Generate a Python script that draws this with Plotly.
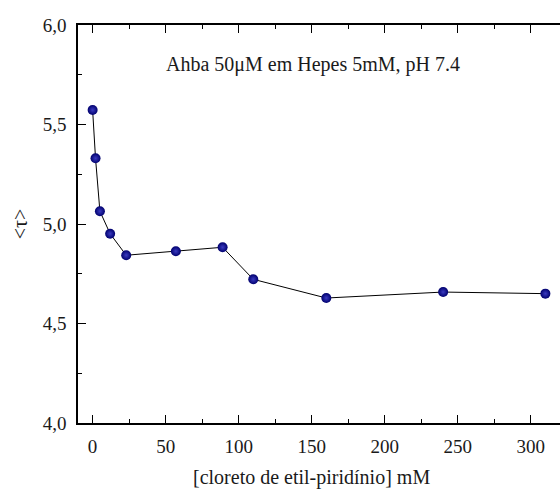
import plotly.graph_objects as go

# Ethyl-pyridinium chloride concentration (mM) and mean lifetime <tau>
conc_mM = [0, 2, 5, 12, 23, 57, 89, 110, 160, 240, 310]
tau_mean = [5.573, 5.33, 5.064, 4.951, 4.843, 4.863, 4.883, 4.722, 4.628, 4.658, 4.650]

x_ticks = [0, 50, 100, 150, 200, 250, 300]
y_ticks = [4.0, 4.5, 5.0, 5.5, 6.0]

serif = "Liberation Serif, serif"
ink = "#1a1a1a"

fig = go.Figure()
fig.add_trace(go.Scatter(
    x=conc_mM, y=tau_mean,
    mode="lines+markers",
    line=dict(color="black", width=1),
    marker=dict(size=10, color="#00006e",
                gradient=dict(type="radial", color="#3a3ac0"),
                line=dict(width=0)),
    showlegend=False,
))

axis_common = dict(
    showline=True, linecolor="black", linewidth=1.5,
    ticks="inside", ticklen=8, tickwidth=1.3, tickcolor="black",
    showgrid=False, zeroline=False,
    tickfont=dict(family=serif, size=19, color=ink),
)

fig.update_xaxes(
    **axis_common,
    range=[-10, 320], tickvals=x_ticks, mirror="ticks",
    ticklabelstandoff=5,
    minor=dict(ticks="inside", ticklen=4, tickwidth=1, tickcolor="black", dtick=25, tick0=0),
)
fig.update_yaxes(
    **axis_common,
    range=[4.0, 6.0], tickvals=y_ticks, tickformat=".1f",
    ticklabelstandoff=6,
    minor=dict(ticks="inside", ticklen=4, tickwidth=1, tickcolor="black", dtick=0.25, tick0=0),
    title=dict(text="<τ>", standoff=10,
               font=dict(family=serif, size=20, color=ink)),
)

# x-axis title, placed a little lower than the default title slot
fig.add_annotation(
    text="[cloreto de etil-piridínio] mM",
    xref="paper", yref="paper", x=0.485, y=-0.138,
    xanchor="center", yanchor="middle", showarrow=False,
    font=dict(family=serif, size=20, color=ink),
)

fig.add_annotation(
    text="Ahba 50μM em Hepes 5mM, pH 7.4",
    xref="paper", yref="paper", x=0.488, y=0.935, showarrow=False,
    font=dict(family=serif, size=20, color=ink),
)

fig.update_layout(
    width=560, height=489,
    margin=dict(l=78, r=0, t=25, b=66),
    paper_bgcolor="white", plot_bgcolor="white",
    separators=",.",
)

fig.write_html("out.html")
